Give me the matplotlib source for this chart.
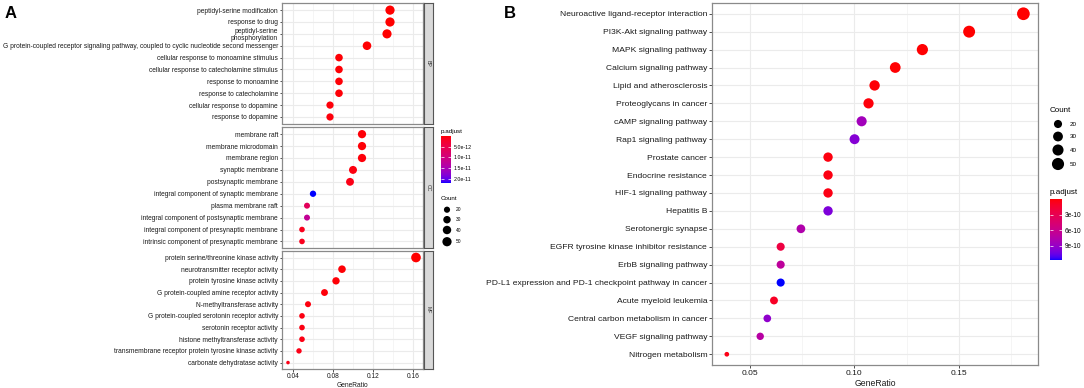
import numpy as np
import matplotlib.pyplot as plt
from matplotlib.colors import ListedColormap, Normalize
from matplotlib.cm import ScalarMappable

plt.rcParams['font.family'] = ['Liberation Sans', 'DejaVu Sans']

# ---------------- Panel A: GO enrichment ----------------
bp_terms = ['peptidyl-serine modification', 'response to drug',
            'peptidyl-serine\nphosphorylation',
            'G protein-coupled receptor signaling pathway, coupled to cyclic nucleotide second messenger',
            'cellular response to monoamine stimulus', 'cellular response to catecholamine stimulus',
            'response to monoamine', 'response to catecholamine',
            'cellular response to dopamine', 'response to dopamine']
bp_ratio = [0.137, 0.137, 0.134, 0.114, 0.086, 0.086, 0.086, 0.086, 0.077, 0.077]
bp_count = [50, 50, 49, 42, 31, 31, 31, 31, 28, 28]
bp_padj = [2e-15, 3e-15, 5e-15, 1e-13, 2e-13, 2e-13, 3e-13, 3e-13, 4e-13, 5e-13]

cc_terms = ['membrane raft', 'membrane microdomain', 'membrane region', 'synaptic membrane',
            'postsynaptic membrane', 'integral component of synaptic membrane',
            'plasma membrane raft', 'integral component of postsynaptic membrane',
            'integral component of presynaptic membrane', 'intrinsic component of presynaptic membrane']
cc_ratio = [0.109, 0.109, 0.109, 0.100, 0.097, 0.060, 0.054, 0.054, 0.049, 0.049]
cc_count = [38, 38, 38, 35, 34, 21, 19, 19, 17, 17]
cc_padj = [3e-13, 3e-13, 4e-13, 6e-13, 9e-13, 2.19e-11, 6.5e-12, 1.2e-11, 1.2e-12, 1.3e-12]

mf_terms = ['protein serine/threonine kinase activity', 'neurotransmitter receptor activity',
            'protein tyrosine kinase activity', 'G protein-coupled amine receptor activity',
            'N-methyltransferase activity', 'G protein-coupled serotonin receptor activity',
            'serotonin receptor activity', 'histone methyltransferase activity',
            'transmembrane receptor protein tyrosine kinase activity', 'carbonate dehydratase activity']
mf_ratio = [0.163, 0.089, 0.083, 0.0715, 0.055, 0.049, 0.049, 0.049, 0.046, 0.035]
mf_count = [56, 31, 29, 25, 19, 17, 17, 17, 16, 12]
mf_padj = [1e-14, 2e-13, 3e-13, 4e-13, 6e-13, 7e-13, 7e-13, 8e-13, 9e-13, 1e-12]

# ---------------- Panel B: KEGG enrichment ----------------
kegg_terms = ['Neuroactive ligand-receptor interaction', 'PI3K-Akt signaling pathway',
              'MAPK signaling pathway', 'Calcium signaling pathway', 'Lipid and atherosclerosis',
              'Proteoglycans in cancer', 'cAMP signaling pathway', 'Rap1 signaling pathway',
              'Prostate cancer', 'Endocrine resistance', 'HIF-1 signaling pathway', 'Hepatitis B',
              'Serotonergic synapse', 'EGFR tyrosine kinase inhibitor resistance',
              'ErbB signaling pathway', 'PD-L1 expression and PD-1 checkpoint pathway in cancer',
              'Acute myeloid leukemia', 'Central carbon metabolism in cancer',
              'VEGF signaling pathway', 'Nitrogen metabolism']
kegg_ratio = [0.181, 0.155, 0.1326, 0.1196, 0.1097, 0.1068, 0.1035, 0.1001, 0.0874, 0.0874,
              0.0874, 0.0874, 0.0744, 0.0647, 0.0647, 0.0647, 0.0615, 0.0583, 0.0549, 0.0389]
kegg_count = [56, 48, 41, 37, 34, 33, 32, 31, 27, 27, 27, 27, 23, 20, 20, 20, 19, 18, 17, 12]
kegg_padj = [1.5e-14, 2e-12, 5e-12, 8e-12, 1.1e-11, 1.9e-11, 8.4e-10, 9.6e-10, 3e-11, 3.8e-11,
             4.5e-11, 9.9e-10, 7.6e-10, 2.2e-10, 6.8e-10, 1.17e-9, 1.0e-10, 9.2e-10, 7.2e-10, 5e-11]

count_breaks = [20, 30, 40, 50]

W, H = 1084, 388
fig = plt.figure(figsize=(W / 100, H / 100), dpi=100)


def px_axes(l, t, r, b):
    return fig.add_axes([l / W, 1 - b / H, (r - l) / W, (b - t) / H])


# red -> blue gradient interpolated in Lab space (like ggplot)
M = np.array([[0.4124, 0.3576, 0.1805], [0.2126, 0.7152, 0.0722], [0.0193, 0.1192, 0.9505]])
WHITE = np.array([0.95047, 1.0, 1.08883])


def to_lab(rgb):
    rgb = np.asarray(rgb, float)
    lin = np.where(rgb <= 0.04045, rgb / 12.92, ((rgb + 0.055) / 1.055) ** 2.4)
    xyz = M @ lin / WHITE
    f = np.where(xyz > 0.008856, np.cbrt(xyz), 7.787 * xyz + 16 / 116)
    return np.array([116 * f[1] - 16, 500 * (f[0] - f[1]), 200 * (f[1] - f[2])])


def from_lab(lab):
    fy = (lab[0] + 16) / 116
    f = np.array([fy + lab[1] / 500, fy, fy - lab[2] / 200])
    xyz = np.where(f ** 3 > 0.008856, f ** 3, (f - 16 / 116) / 7.787) * WHITE
    lin = np.clip(np.linalg.solve(M, xyz), 0, 1)
    return np.clip(np.where(lin <= 0.0031308, 12.92 * lin, 1.055 * lin ** (1 / 2.4) - 0.055), 0, 1)


lab_r, lab_b = to_lab([1, 0, 0]), to_lab([0, 0, 1])
cmap = ListedColormap([from_lab((1 - t) * lab_r + t * lab_b) for t in np.linspace(0, 1, 256)])


def dot_area(count, k, cmin=12, cmax=56):
    t = (np.asarray(count, float) - cmin) / (cmax - cmin)
    d_px = k * (3.1 + 1.6 * (1 + 5 * np.sqrt(np.clip(t, 0, 1))))
    return (d_px * 0.72) ** 2


def style_axes(ax, fs, tick_len):
    ax.set_facecolor('white')
    for sp in ax.spines.values():
        sp.set_color('#8a8a8a')
        sp.set_linewidth(0.9)
    ax.xaxis.grid(True, which='major', color='#ebebeb', lw=0.8)
    ax.xaxis.grid(True, which='minor', color='#f2f2f2', lw=0.5)
    ax.yaxis.grid(True, which='major', color='#ebebeb', lw=0.8)
    ax.set_axisbelow(True)
    ax.tick_params(axis='both', which='major', labelsize=fs, length=tick_len, width=0.6,
                   color='#333333', labelcolor='#1a1a1a', pad=1)
    ax.tick_params(axis='x', which='minor', length=0)


# ---- Panel A ----
all_padj_a = bp_padj + cc_padj + mf_padj
norm_a = Normalize(min(all_padj_a), max(all_padj_a))
facets = [('BP', bp_terms, bp_ratio, bp_count, bp_padj, 3, 123.5),
          ('CC', cc_terms, cc_ratio, cc_count, cc_padj, 127, 248),
          ('MF', mf_terms, mf_ratio, mf_count, mf_padj, 250.5, 369)]
ka = 0.76
for strip, terms, ratio, count, padj, top, bot in facets:
    ax = px_axes(282, top, 423, bot)
    n = len(terms)
    y = np.arange(n)[::-1]
    ax.scatter(ratio, y, s=dot_area(count, ka), c=padj, cmap=cmap, norm=norm_a,
               edgecolors='none', zorder=3)
    ax.set_xlim(0.029, 0.170)
    ax.set_ylim(-0.55, n - 0.4)
    ax.set_yticks(y)
    ax.set_yticklabels(terms, linespacing=0.95)
    ax.set_xticks([0.04, 0.08, 0.12, 0.16])
    ax.set_xticks([0.06, 0.10, 0.14], minor=True)
    ax.set_xticklabels(['0.04', '0.08', '0.12', '0.16'])
    style_axes(ax, 4.8, 1.8)
    if strip != 'MF':
        ax.tick_params(axis='x', labelbottom=False, bottom=False)
    else:
        ax.set_xlabel('GeneRatio', fontsize=4.8, labelpad=1.5, color='#1a1a1a')
    sax = px_axes(424, top, 433, bot)
    sax.set_facecolor('#d9d9d9')
    sax.set_xticks([])
    sax.set_yticks([])
    for sp in sax.spines.values():
        sp.set_color('#555555')
        sp.set_linewidth(0.8)
    sax.text(0.5, 0.5, strip, rotation=270, ha='center', va='center', fontsize=3.8,
             color='#333333', transform=sax.transAxes)

# colourbar A
cax = px_axes(441, 136, 451, 183)
cb = fig.colorbar(ScalarMappable(norm=norm_a, cmap=cmap), cax=cax)
cb.outline.set_visible(False)
cax.invert_yaxis()
cb.set_ticks([5e-12, 1e-11, 1.5e-11, 2e-11])
cb.set_ticklabels(['5.0e-12', '1.0e-11', '1.5e-11', '2.0e-11'])
cax.tick_params(axis='y', direction='in', color='white', length=2, width=0.5,
                left=True, right=True, labelsize=3.8, pad=2)
fig.text(441 / W, 1 - 131 / H, 'p.adjust', fontsize=4.5, va='center', ha='left')

# ---- Panel B ----
axb = px_axes(712, 3, 1038, 365)
nb = len(kegg_terms)
yb = np.arange(nb)[::-1]
norm_b = Normalize(min(kegg_padj), max(kegg_padj))
axb.scatter(kegg_ratio, yb, s=dot_area(kegg_count, 1.0), c=kegg_padj, cmap=cmap, norm=norm_b,
            edgecolors='none', zorder=3)
axb.set_xlim(0.0318, 0.188)
axb.set_ylim(-0.6, nb - 0.4)
axb.set_yticks(yb)
axb.set_yticklabels(kegg_terms)
axb.set_xticks([0.05, 0.10, 0.15])
axb.set_xticks([0.075, 0.125, 0.175], minor=True)
axb.set_xticklabels(['0.05', '0.10', '0.15'])
style_axes(axb, 6.1, 2.5)
axb.set_xlabel('GeneRatio', fontsize=6.2, labelpad=1.5, color='#1a1a1a')

cbx = px_axes(1050, 199, 1062, 260)
cb2 = fig.colorbar(ScalarMappable(norm=norm_b, cmap=cmap), cax=cbx)
cb2.outline.set_visible(False)
cbx.invert_yaxis()
cb2.set_ticks([3e-10, 6e-10, 9e-10])
cb2.set_ticklabels(['3e-10', '6e-10', '9e-10'])
cbx.tick_params(axis='y', direction='in', color='white', length=2.5, width=0.5,
                left=True, right=True, labelsize=4.7, pad=2)
fig.text(1050 / W, 1 - 192 / H, 'p.adjust', fontsize=5.8, va='center', ha='left')

# ---- Count legends (keys drawn on an overlay in pixel units) ----
ov = fig.add_axes([0, 0, 1, 1])
ov.set_xlim(0, W)
ov.set_ylim(H, 0)
ov.axis('off')
ov.set_zorder(5)

fig.text(441 / W, 1 - 199 / H, 'Count', fontsize=4.5, va='center', ha='left')
ov.scatter([447] * 4, [209.7, 219.7, 230, 241.7], s=dot_area(count_breaks, ka), c='black',
           edgecolors='none')
for yy, c in zip([209.7, 219.7, 230, 241.7], count_breaks):
    ov.text(456, yy, str(c), fontsize=3.5, va='center', ha='left')

fig.text(1050 / W, 1 - 110 / H, 'Count', fontsize=5.8, va='center', ha='left')
ov.scatter([1058] * 4, [124, 136.5, 150, 164], s=dot_area(count_breaks, 1.0), c='black',
           edgecolors='none')
for yy, c in zip([124, 136.5, 150, 164], count_breaks):
    ov.text(1070, yy, str(c), fontsize=4.5, va='center', ha='left')

# panel letters
fig.text(5 / W, 1 - 13 / H, 'A', fontsize=12, fontweight='bold', va='center', ha='left')
fig.text(504 / W, 1 - 13 / H, 'B', fontsize=12, fontweight='bold', va='center', ha='left')

fig.savefig('out.png', dpi=100, facecolor='white')
